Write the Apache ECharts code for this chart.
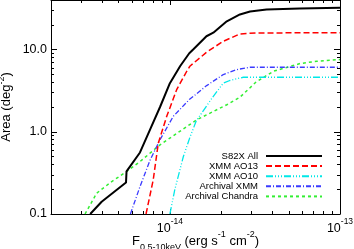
<!DOCTYPE html>
<html><head><meta charset="utf-8">
<script src="https://cdn.jsdelivr.net/npm/echarts@6/dist/echarts.min.js"></script>
<style>html,body{margin:0;padding:0;background:#fff}#c{width:354px;height:249px}</style>
</head><body><div id="c"></div>
<script>
// ---- data ----
const seriesNames = ['S82X All', 'XMM AO13', 'XMM AO10', 'Archival XMM', 'Archival Chandra'];

const s82xFlux = [3.4e-15, 3.97e-15, 5.52e-15, 5.56e-15, 6.67e-15, 7.7e-15, 8.75e-15, 1.0e-14, 1.15e-14, 1.3e-14, 1.37e-14, 1.64e-14, 1.8e-14, 2.16e-14, 2.58e-14, 2.96e-14, 3.7e-14, 5.8e-14, 1e-13];
const s82xArea = [0.1, 0.141, 0.241, 0.33, 0.56, 1.1, 2.0, 3.9, 6.3, 9.0, 10, 14.5, 16.0, 22, 26.7, 29.0, 30.7, 31.6, 32.2];

const ao13Flux = [7.24e-15, 7.98e-15, 8.55e-15, 9.58e-15, 1.096e-14, 1.256e-14, 1.31e-14, 1.645e-14, 2.06e-14, 2.58e-14, 3.2e-14, 1e-13];
const ao13Area = [0.1, 0.26, 0.73, 1.54, 3.25, 5.44, 6.26, 9.3, 12.6, 15.45, 15.9, 16.0];

const ao10Flux = [1.0e-14, 1.07e-14, 1.2e-14, 1.31e-14, 1.43e-14, 1.57e-14, 1.8e-14, 2.06e-14, 2.25e-14, 2.7e-14, 1e-13];
const ao10Area = [0.1, 0.2, 0.5, 0.85, 1.36, 1.8, 2.7, 3.9, 4.2, 4.6, 4.6];

const archXmmFlux = [5.86e-15, 6.67e-15, 7.64e-15, 8.75e-15, 1.047e-14, 1.30e-14, 1.645e-14, 2.06e-14, 2.47e-14, 2.96e-14, 1e-13];
const archXmmArea = [0.1, 0.215, 0.45, 0.80, 1.54, 2.46, 3.64, 4.96, 5.70, 6.09, 6.09];

const chandraFlux = [3.17e-15, 3.71e-15, 4.55e-15, 5.56e-15, 6.67e-15, 8.75e-15, 1.44e-14, 2.16e-14, 2.58e-14, 3.21e-14, 4.06e-14, 5.82e-14, 7.3e-14, 1e-13];
const chandraArea = [0.1, 0.179, 0.248, 0.328, 0.434, 0.694, 1.40, 2.13, 2.63, 4.02, 5.44, 6.75, 7.2, 7.55];

const xMajorTicks = [1e-14, 1e-13];
const xTickExponents = ['-14', '-13'];
const xMinorTicks = [3e-15, 4e-15, 5e-15, 6e-15, 7e-15, 8e-15, 9e-15, 2e-14, 3e-14, 4e-14, 5e-14, 6e-14, 7e-14, 8e-14, 9e-14];
const yMajorTicks = [0.1, 1, 10];
const yTickLabels = ['0.1', '1.0', '10.0'];
const yMinorTicks = [0.2, 0.3, 0.4, 0.5, 0.6, 0.7, 0.8, 0.9, 2, 3, 4, 5, 6, 7, 8, 9, 20, 30];
const xRange = [2e-15, 1e-13];
const yRange = [0.1, 40];

// ---- styles ----
const FONT = 'Liberation Sans, Arial, sans-serif';
const colors = ['#000000', '#ff0000', '#00e8e8', '#3a3aff', '#33ee33'];
const dashes = ['solid', [6, 3], [7, 2, 1, 2, 1, 2, 1, 2], [5, 2, 1, 2], [3, 3]];
const widths = [2, 1.5, 1.3, 1.3, 1.5];

const zip = (a, b) => a.map((v, i) => [v, b[i]]);
const seriesData = [zip(s82xFlux, s82xArea), zip(ao13Flux, ao13Area), zip(ao10Flux, ao10Area), zip(archXmmFlux, archXmmArea), zip(chandraFlux, chandraArea)];

function near(a, b) { return Math.abs(Math.log10(a) - Math.log10(b)) < 1e-6; }

function logAxis(range, pos, ticks, len, opts) {
  return Object.assign({
    type: 'log', logBase: 10, min: range[0], max: range[1], position: pos,
    splitLine: { show: false },
    axisLine: { show: false },
    axisLabel: { show: false },
    axisTick: { show: true, inside: true, length: len, customValues: ticks, lineStyle: { color: '#000', width: 1 } }
  }, opts || {});
}
const lineOn = { show: true, lineStyle: { color: '#000', width: 1 } };

const option = {
  animation: false,
  backgroundColor: '#fff',
  grid: { left: 51, right: 14, top: 0, bottom: 35, containLabel: false, outerBoundsMode: 'none' },
  xAxis: [
    logAxis(xRange, 'bottom', xMajorTicks, 5, {
      axisLine: lineOn,
      axisLabel: {
        show: true, customValues: xMajorTicks, margin: 3,
        formatter: function (v) {
          const i = xMajorTicks.findIndex(t => near(t, v));
          return '{b|10}{sup|' + xTickExponents[i] + '}';
        },
        rich: {
          b: { fontFamily: FONT, fontSize: 12.5, color: '#000', lineHeight: 23 },
          sup: { fontFamily: FONT, fontSize: 8.5, color: '#000', lineHeight: 9, verticalAlign: 'top' }
        }
      },
      name: '{b|F}{sub|0.5-10keV}{b| (erg s}{sup|-1}{b| cm}{sup|-2}{b|)}',
      nameLocation: 'middle', nameGap: 16, nameMoveOverlap: false,
      nameTextStyle: {
        rich: {
          b: { fontFamily: FONT, fontSize: 13, color: '#000', lineHeight: 22 },
          sub: { fontFamily: FONT, fontSize: 9, color: '#000', lineHeight: 14, verticalAlign: 'bottom' },
          sup: { fontFamily: FONT, fontSize: 9, color: '#000', lineHeight: 10, verticalAlign: 'top' }
        }
      }
    }),
    logAxis(xRange, 'bottom', xMinorTicks, 3),
    logAxis(xRange, 'top', xMajorTicks, 5, { axisLine: lineOn }),
    logAxis(xRange, 'top', xMinorTicks, 3)
  ],
  yAxis: [
    logAxis(yRange, 'left', yMajorTicks, 6, {
      axisLine: lineOn,
      axisLabel: {
        show: true, customValues: yMajorTicks, margin: 4,
        fontFamily: FONT, fontSize: 12.5, color: '#000',
        formatter: function (v) {
          const i = yMajorTicks.findIndex(t => near(t, v));
          return yTickLabels[i];
        }
      },
      name: '{b|Area (deg}{sup|-2}{b|)}',
      nameLocation: 'middle', nameGap: 36, nameMoveOverlap: false,
      nameTextStyle: {
        rich: {
          b: { fontFamily: FONT, fontSize: 13, color: '#000', lineHeight: 18 },
          sup: { fontFamily: FONT, fontSize: 9, color: '#000', lineHeight: 8, verticalAlign: 'top' }
        }
      }
    }),
    logAxis(yRange, 'left', yMinorTicks, 3),
    logAxis(yRange, 'right', yMajorTicks, 6, { axisLine: lineOn }),
    logAxis(yRange, 'right', yMinorTicks, 3)
  ],
  legend: {
    data: seriesNames, orient: 'vertical', right: 31, top: 151, align: 'right',
    itemWidth: 56, itemHeight: 10, itemGap: 0.1, padding: 0, selectedMode: false,
    itemStyle: { opacity: 0 },
    textStyle: { fontFamily: FONT, fontSize: 9.5, lineHeight: 10, color: '#000', padding: [0, 3, 0, 0] }
  },
  series: seriesNames.map((n, i) => ({
    name: n, type: 'line', xAxisIndex: 0, yAxisIndex: 0,
    data: seriesData[i], symbol: 'none', showSymbol: false, smooth: false,
    clip: true, z: 10 - i,
    lineStyle: { color: colors[i], width: widths[i], type: dashes[i] },
    itemStyle: { color: colors[i] }
  }))
};

const chart = echarts.init(document.getElementById('c'), null, { renderer: 'canvas' });
chart.setOption(option);
</script>
</body></html>
